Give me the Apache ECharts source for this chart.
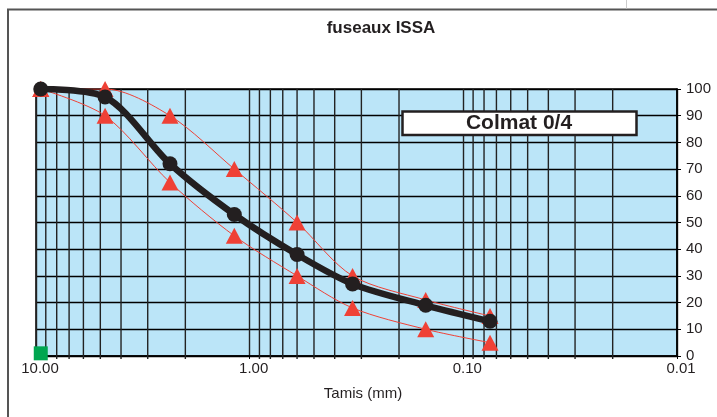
<!DOCTYPE html>
<html>
<head>
<meta charset="utf-8">
<script src="https://cdn.jsdelivr.net/npm/echarts@6/dist/echarts.min.js"></script>
<style>
html,body{margin:0;padding:0;background:#fff;}
#chart{width:717px;height:417px;}
</style>
</head>
<body>
<div id="chart"></div>
<script>
// Sieve sizes (mm) as plotted
const sieves = [9.5, 4.75, 2.36, 1.18, 0.6, 0.33, 0.15, 0.075];
// Colmat 0/4 passing (%)
const passing = [100, 97, 72, 53, 38, 27, 19, 13];
// ISSA envelope
const upperLimit = [100, 100, 90, 70, 50, 30, 21, 15];
const lowerLimit = [100, 90, 65, 45, 30, 18, 10, 5];
// green marker
const markerPoint = [[9.5, 1]];
// minor vertical grid values (log axis)
const minorGrid = [9, 8, 7, 6, 5, 4, 3, 2, 0.9, 0.8, 0.7, 0.6, 0.5, 0.4, 0.3, 0.2, 0.09, 0.08, 0.07, 0.06, 0.05, 0.04, 0.03, 0.02];
const xMin = 0.01, xMax = 10;
const yMin = 0, yMax = 100, yStep = 10;
const titleText = 'fuseaux ISSA';
const boxText = 'Colmat 0/4';
const xName = 'Tamis (mm)';

const zip = (xs, ys) => xs.map((x, i) => [x, ys[i]]);
const txt = '#231F20';
const font = '"Liberation Sans", Arial, sans-serif';

const chart = echarts.init(document.getElementById('chart'));
chart.setOption({
  animation: false,
  textStyle: { fontFamily: font },
  grid: { left: 36, right: 40, top: 89, bottom: 61, show: true, backgroundColor: '#BBE5F8', borderColor: '#000', borderWidth: 1.5 },
  xAxis: {
    type: 'log', logBase: 10, min: xMin, max: xMax, inverse: true,
    axisLine: { show: true, lineStyle: { color: '#000', width: 1.5 } },
    axisTick: { show: true, length: 3, lineStyle: { color: '#000' } },
    axisLabel: { color: txt, fontSize: 15, fontFamily: font, margin: 5, padding: [0, 0, 0, 8],
      formatter: v => Number(v).toFixed(2) },
    splitLine: { show: true, lineStyle: { color: '#222', width: 1.4 } },
    name: xName, nameLocation: 'middle', nameGap: 30,
    nameTextStyle: { color: txt, fontSize: 15, fontFamily: font, padding: [0, 0, 0, 13] }
  },
  yAxis: {
    type: 'value', position: 'right', min: yMin, max: yMax, interval: yStep,
    axisLine: { show: true, lineStyle: { color: '#000', width: 1.5 } },
    axisTick: { show: true, length: 4, lineStyle: { color: '#000' } },
    axisLabel: { color: txt, fontSize: 15, fontFamily: font, margin: 9 },
    splitLine: { show: true, lineStyle: { color: '#000', width: 1.4 } }
  },
  series: [
    {
      type: 'custom', z: 1, silent: true, clip: false,
      data: minorGrid.map(v => [v, 0]),
      renderItem: function (params, api) {
        const p1 = api.coord([api.value(0), yMax]);
        const p2 = api.coord([api.value(0), yMin]);
        return { type: 'line', shape: { x1: p1[0], y1: p1[1], x2: p2[0], y2: p2[1] + 3 },
          style: { stroke: '#222', lineWidth: 1.4 } };
      }
    },
    {
      type: 'line', z: 2, data: zip(sieves, upperLimit), smooth: 0.3,
      symbol: 'triangle', symbolSize: [17, 16],
      lineStyle: { color: '#EF4136', width: 1 }, itemStyle: { color: '#EF4136', opacity: 1 }
    },
    {
      type: 'line', z: 2, data: zip(sieves, lowerLimit), smooth: 0.3,
      symbol: 'triangle', symbolSize: [17, 16],
      lineStyle: { color: '#EF4136', width: 1 }, itemStyle: { color: '#EF4136', opacity: 1 }
    },
    {
      type: 'line', z: 3, data: zip(sieves, passing), smooth: 0.3,
      symbol: 'circle', symbolSize: 15,
      lineStyle: { color: '#231F20', width: 6.5 }, itemStyle: { color: '#231F20', opacity: 1 }
    },
    {
      type: 'scatter', z: 4, data: markerPoint, symbol: 'rect', symbolSize: 14,
      itemStyle: { color: '#00A651', opacity: 1, borderWidth: 0 }, clip: false
    }
  ],
  graphic: [
    { type: 'polyline', shape: { points: [[8, 417], [8, 9.5], [717, 9.5]] }, style: { stroke: '#555', lineWidth: 2, fill: null }, silent: true },
    { type: 'line', shape: { x1: 626.5, y1: 0, x2: 626.5, y2: 8.5 }, style: { stroke: '#ccc', lineWidth: 1 }, silent: true },
    { type: 'text', x: 381, y: 28, style: { text: titleText, fill: txt, font: 'bold 17px ' + font, textAlign: 'center', textVerticalAlign: 'middle' } },
    { type: 'rect', shape: { x: 402.5, y: 111.5, width: 234, height: 23.5 }, style: { fill: '#fff', stroke: '#231F20', lineWidth: 2.5 }, z: 10 },
    { type: 'text', x: 519, y: 123.5, z: 11, style: { text: boxText, fill: txt, font: 'bold 21px ' + font, textAlign: 'center', textVerticalAlign: 'middle' } }
  ]
});
</script>
</body>
</html>
